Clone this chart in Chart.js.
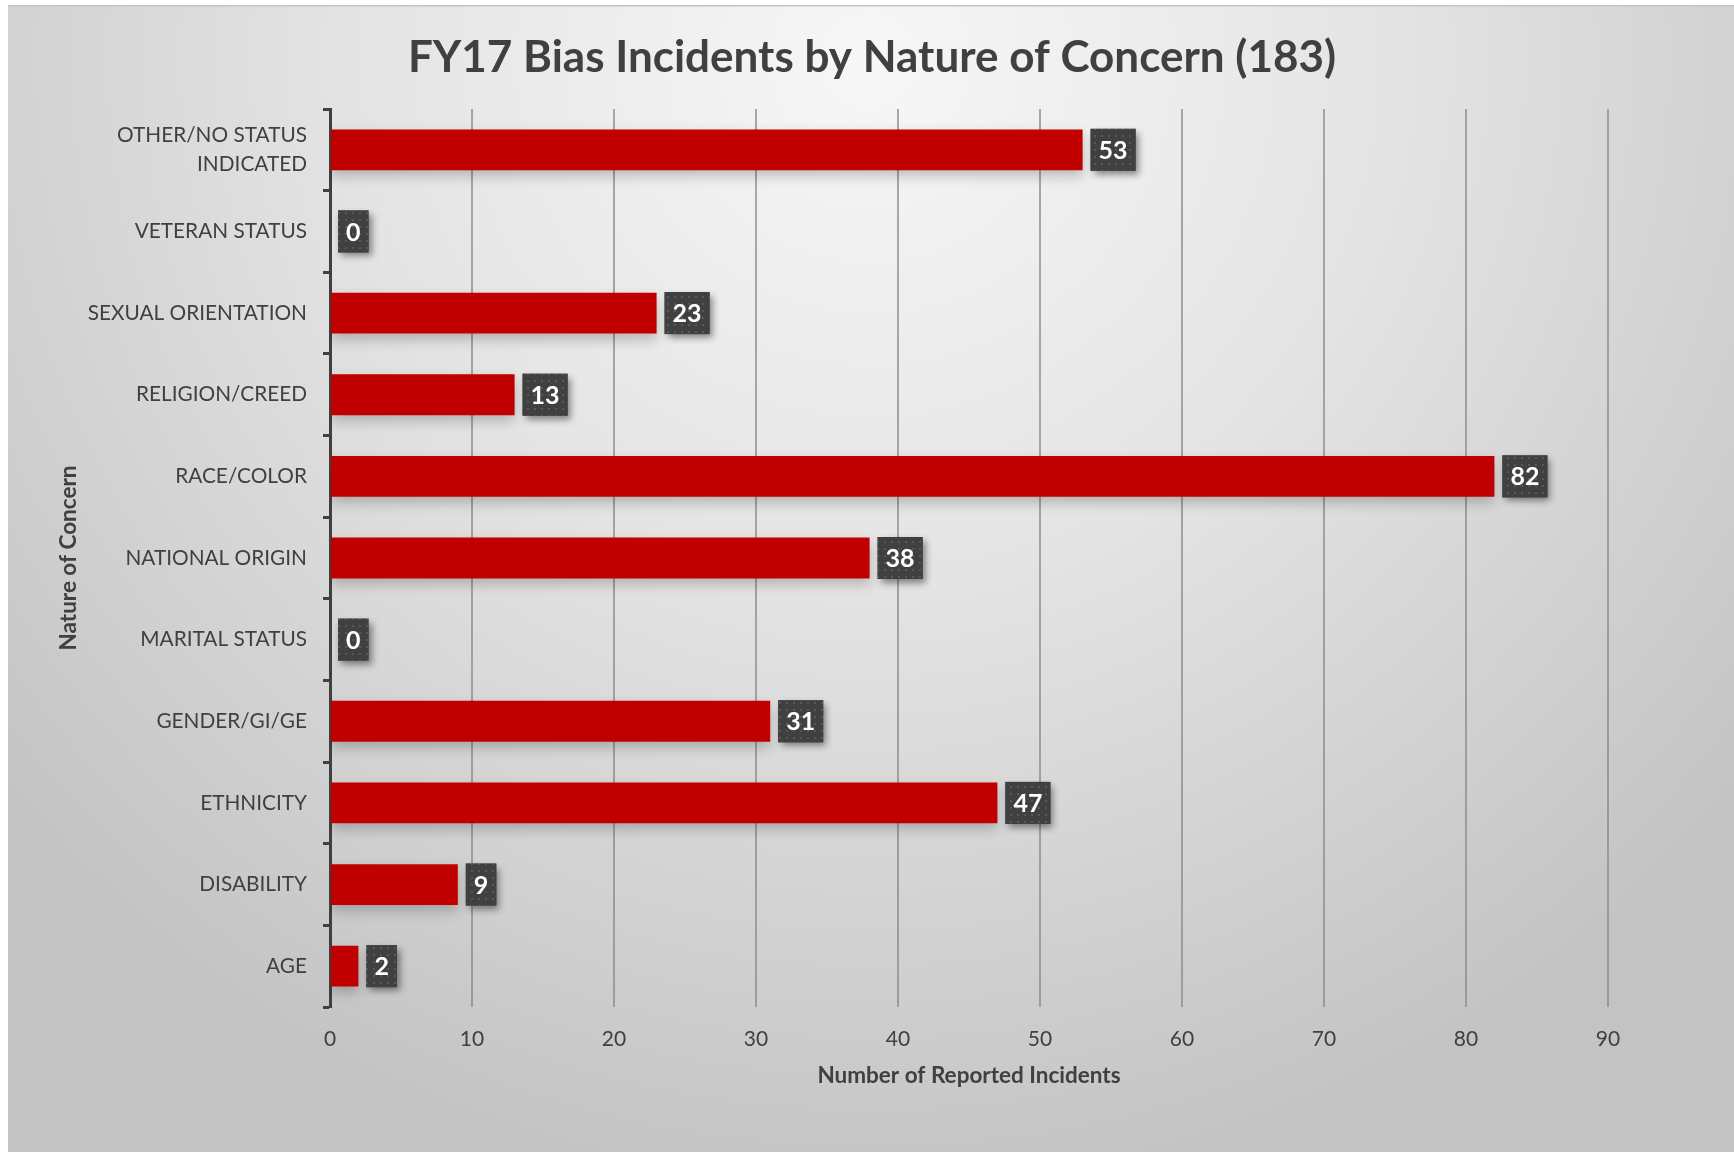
<!DOCTYPE html>
<html><head><meta charset="utf-8">
<script src="https://cdn.jsdelivr.net/npm/chart.js@4.4.1/dist/chart.umd.min.js"></script>
<style>html,body{margin:0;padding:0;background:#fff;overflow:hidden}</style>
</head><body>
<canvas id="c" width="1734" height="1152" style="display:block;width:1734px;height:1152px"></canvas>
<script>
const categories = [["OTHER/NO STATUS","INDICATED"],"VETERAN STATUS","SEXUAL ORIENTATION","RELIGION/CREED","RACE/COLOR","NATIONAL ORIGIN","MARITAL STATUS","GENDER/GI/GE","ETHNICITY","DISABILITY","AGE"];
const incidents = [53,0,23,13,82,38,0,31,47,9,2];
const xTicks = [0,10,20,30,40,50,60,70,80,90];
const chartTitle = "FY17 Bias Incidents by Nature of Concern (183)";
const xTitle = "Number of Reported Incidents";
const yTitle = "Nature of Concern";

const FONT = "Lato, 'Open Sans', sans-serif";
const TEXT = '#404040';

// dotted pattern for label boxes
const pc = document.createElement('canvas');
pc.width = 7; pc.height = 7;
const pctx = pc.getContext('2d');
pctx.fillStyle = '#404040'; pctx.fillRect(0,0,7,7);
pctx.fillStyle = '#585858'; pctx.fillRect(2,2,2,2);

const bgPlugin = {
  id: 'bg',
  beforeDraw(chart) {
    const ctx = chart.ctx;
    ctx.save();
    ctx.fillStyle = '#ffffff';
    ctx.fillRect(0,0,chart.width,chart.height);
    const g = ctx.createRadialGradient(870, 60, 0, 870, 60, 1150);
    g.addColorStop(0, '#f7f7f7');
    g.addColorStop(0.45, '#e4e4e4');
    g.addColorStop(1, '#c3c3c3');
    ctx.fillStyle = g;
    ctx.fillRect(8, 5, chart.width - 8, chart.height - 5);
    ctx.fillStyle = '#c4c4c4';
    ctx.fillRect(8, 5, chart.width - 8, 1.5);
    ctx.restore();
  },
  afterDraw(chart) {
    const ctx = chart.ctx;
    ctx.save();
    ctx.fillStyle = TEXT;
    ctx.font = "bold 44px " + FONT;
    ctx.textAlign = 'center';
    ctx.textBaseline = 'middle';
    ctx.fillText(chartTitle, 872, 58);
    ctx.restore();
  }
};

const labelPlugin = {
  id: 'boxLabels',
  beforeDatasetsDraw(chart) {
    const ctx = chart.ctx;
    ctx.save();
    ctx.shadowColor = 'rgba(0,0,0,0.22)';
    ctx.shadowBlur = 12;
    ctx.shadowOffsetX = 0;
    ctx.shadowOffsetY = 6;
  },
  afterDatasetsDraw(chart) {
    const ctx = chart.ctx;
    ctx.restore();
    const meta = chart.getDatasetMeta(0);
    const data = chart.data.datasets[0].data;
    const pattern = ctx.createPattern(pc, 'repeat');
    meta.data.forEach((el, i) => {
      const txt = String(data[i]);
      ctx.save();
      ctx.font = "bold 25px " + FONT;
      const tw = ctx.measureText(txt).width;
      const w = tw + 16, h = 42;
      const x0 = el.x + 8, y0 = el.y - h / 2;
      ctx.shadowColor = 'rgba(0,0,0,0.45)';
      ctx.shadowBlur = 7;
      ctx.shadowOffsetX = 3;
      ctx.shadowOffsetY = 4;
      ctx.fillStyle = '#404040';
      ctx.fillRect(x0, y0, w, h);
      ctx.shadowColor = 'transparent';
      ctx.fillStyle = pattern;
      ctx.fillRect(x0, y0, w, h);
      ctx.fillStyle = '#ffffff';
      ctx.textAlign = 'center';
      ctx.textBaseline = 'middle';
      ctx.fillText(txt, x0 + w / 2, el.y + 1);
      ctx.restore();
    });
  }
};

new Chart(document.getElementById('c'), {
  type: 'bar',
  data: {
    labels: categories,
    datasets: [{
      data: incidents,
      backgroundColor: '#C00000',
      borderWidth: 0,
      barPercentage: 0.5,
      categoryPercentage: 1.0
    }]
  },
  options: {
    indexAxis: 'y',
    responsive: false,
    animation: false,
    devicePixelRatio: 1,
    layout: { padding: { top: 109, left: 8, right: 126, bottom: 40 } },
    plugins: { legend: { display: false }, tooltip: { enabled: false }, title: { display: false } },
    scales: {
      x: {
        min: 0, max: 90,
        afterBuildTicks(s) { s.ticks = xTicks.map(v => ({ value: v })); },
        ticks: { color: TEXT, font: { family: FONT, size: 21 }, padding: 20 },
        grid: { color: 'rgba(135,135,135,0.7)', lineWidth: 2, drawTicks: false },
        border: { display: false },
        title: { display: true, text: xTitle, color: TEXT, font: { family: FONT, size: 22.5, weight: 'bold' }, padding: { top: 0, bottom: 23 } },
        afterFit(s) { s.height = 105; }
      },
      y: {
        ticks: { color: TEXT, font: { family: FONT, size: 20.8, lineHeight: 1.37 }, padding: 16 },
        grid: { drawOnChartArea: false, drawTicks: true, tickLength: 7, tickColor: TEXT, tickWidth: 3, offset: true },
        border: { display: true, color: TEXT, width: 3 },
        title: { display: true, text: yTitle, color: TEXT, font: { family: FONT, size: 22.5, weight: 'bold' }, padding: { top: 47, bottom: 0 } },
        afterFit(s) { s.width = 322; }
      }
    }
  },
  plugins: [bgPlugin, labelPlugin]
});
</script>
</body></html>
